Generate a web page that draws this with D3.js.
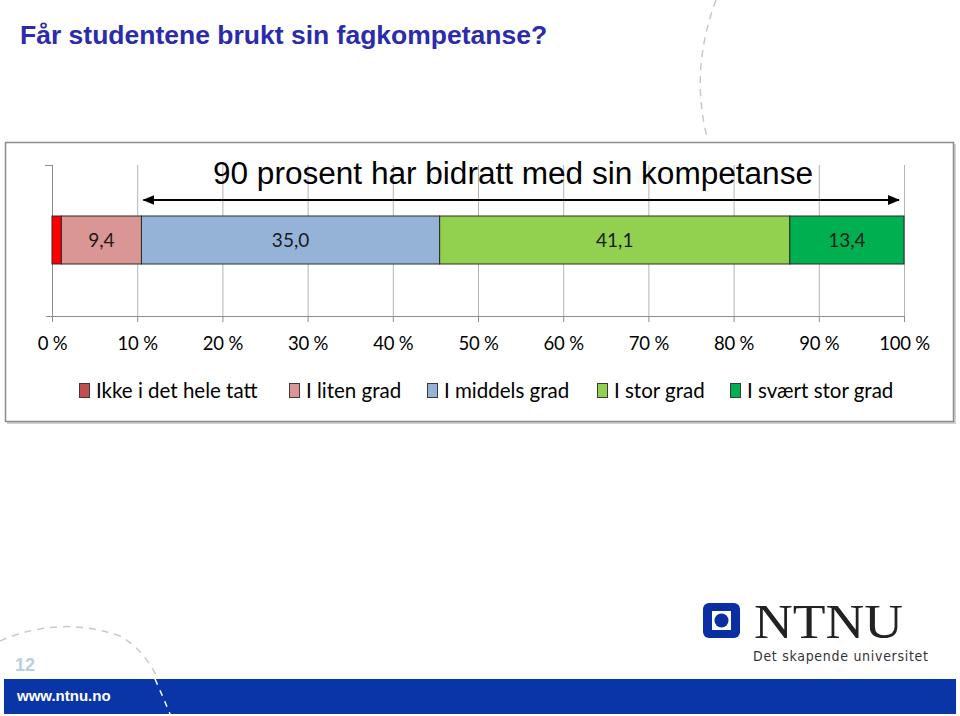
<!DOCTYPE html>
<html><head><meta charset="utf-8">
<script src="https://cdn.jsdelivr.net/npm/d3@7"></script>
<style>html,body{margin:0;padding:0;background:#fff;}svg{display:block;}</style>
</head><body>
<script>
const categories = ["Ikke i det hele tatt", "I liten grad", "I middels grad", "I stor grad", "I svært stor grad"];
const values = [1.1, 9.4, 35.0, 41.1, 13.4];
const labels = ["", "9,4", "35,0", "41,1", "13,4"];
const tickValues = [0,10,20,30,40,50,60,70,80,90,100];
const tickLabels = ["0 %","10 %","20 %","30 %","40 %","50 %","60 %","70 %","80 %","90 %","100 %"];
const colors = ["#ff0000", "#da9694", "#95b3d7", "#92d050", "#00b050"];
const legendColors = ["#c0504d", "#da9694", "#95b3d7", "#92d050", "#00b050"];
const rows = ["Alle"];

const W = 960, H = 716;
const svg = d3.select("body").append("svg").attr("width", W).attr("height", H);

// decorative dashed arcs
svg.append("path").attr("d", "M716,0 Q690,70 707,137").attr("fill","none")
  .attr("stroke","#c8c8c8").attr("stroke-width",1.5).attr("stroke-dasharray","7,6");
svg.append("path").attr("d", "M0,641 Q60,615 120,636 Q155,655 172,716").attr("fill","none")
  .attr("stroke","#c8c8c8").attr("stroke-width",1.5).attr("stroke-dasharray","7,6");

// page title
svg.append("text").attr("x", 20).attr("y", 44)
  .attr("font-family","Liberation Sans, Arial, sans-serif").attr("font-weight","bold")
  .attr("font-size", 26.5).attr("fill","#2b2bac").text("Får studentene brukt sin fagkompetanse?");

// chart box
svg.append("rect").attr("x",7).attr("y",144).attr("width",949).attr("height",280).attr("fill","#d0d0d0");
svg.append("rect").attr("x",5.5).attr("y",142.5).attr("width",948).attr("height",279)
  .attr("fill","#fff").attr("stroke","#8a8a8a").attr("stroke-width",1.5);

const x = d3.scaleLinear().domain([0,100]).range([52,904]);
const y = d3.scaleBand().domain(rows).range([216,264]).padding(0);

const g = svg.append("g");
// gridlines
g.selectAll("line.grid").data(tickValues.slice(1)).join("line")
  .attr("x1", d=>x(d)+0.5).attr("x2", d=>x(d)+0.5).attr("y1",165).attr("y2",316)
  .attr("stroke","#b4b4b4").attr("stroke-width",1);

// x axis
const xAxis = d3.axisBottom(x).tickValues(tickValues).tickSize(6).tickFormat((d,i)=>tickLabels[i]);
const ax = g.append("g").attr("transform","translate(0,316)").call(xAxis);
ax.select(".domain").attr("stroke","#8c8c8c").attr("d","M46,0.5H905");
ax.selectAll(".tick line").attr("stroke","#8c8c8c");
ax.selectAll(".tick text").attr("font-family","Lato, sans-serif").attr("font-size",18.5)
  .attr("fill","#000").attr("dy","1.35em").attr("letter-spacing","-0.2");

// left category axis
const yAxis = d3.axisLeft(d3.scaleLinear().domain([0,1]).range([316,165])).tickValues([1]).tickSize(7).tickFormat("");
const ay = g.append("g").attr("transform","translate(52,0)").call(yAxis);
ay.select(".domain").attr("stroke","#8c8c8c").attr("d","M0.5,165V316");
ay.selectAll(".tick line").attr("stroke","#8c8c8c");

// bars
const stack = [];
let acc = 0;
values.forEach((v,i)=>{ stack.push({i, x0: acc, x1: acc+v, v}); acc += v; });
g.selectAll("rect.seg").data(stack).join("rect")
  .attr("x", d=>x(d.x0)).attr("width", d=>x(d.x1)-x(d.x0))
  .attr("y", y("Alle")).attr("height", y.bandwidth())
  .attr("fill", d=>colors[d.i]).attr("stroke","#2a2a2a").attr("stroke-width",1);
g.selectAll("text.lbl").data(stack.filter(d=>labels[d.i])).join("text")
  .attr("x", d=>(x(d.x0)+x(d.x1))/2).attr("y", y("Alle")+y.bandwidth()/2+6.5)
  .attr("text-anchor","middle").attr("font-family","Lato, sans-serif").attr("font-size",19)
  .attr("fill","#1a1a1a").text(d=>labels[d.i]);

// annotation arrow
svg.append("defs").html(
 '<marker id="ah" viewBox="0 0 12 10" refX="11" refY="5" markerWidth="12" markerHeight="10" markerUnits="userSpaceOnUse" orient="auto-start-reverse"><path d="M0,0L12,5L0,10Z" fill="#000"/></marker>');
svg.append("line").attr("x1", x(values[0]+values[1])+2).attr("x2", x(100)-5).attr("y1",200).attr("y2",200)
  .attr("stroke","#000").attr("stroke-width",2.2)
  .attr("marker-start","url(#ah)").attr("marker-end","url(#ah)");
svg.append("text").attr("x", 213).attr("y", 184)
  .attr("font-family","Liberation Sans, Arial, sans-serif").attr("font-size",31)
  .attr("textLength",600).attr("lengthAdjust","spacingAndGlyphs")
  .attr("fill","#000").text("90 prosent har bidratt med sin kompetanse");

// legend
const legX = [79, 289, 427, 597, 730];
const lg = svg.append("g");
categories.forEach((c,i)=>{
  lg.append("rect").attr("x",legX[i]+0.5).attr("y",383.5).attr("width",10).attr("height",14)
    .attr("fill",legendColors[i]).attr("stroke","#3a3a3a").attr("stroke-width",1);
  lg.append("text").attr("x",legX[i]+17).attr("y",397.5).attr("font-family","Lato, sans-serif")
    .attr("font-size",20.5).attr("fill","#000").text(c);
});

// NTNU logo
const logo = svg.append("g");
logo.append("rect").attr("x",703).attr("y",603).attr("width",37).attr("height",35).attr("rx",6).attr("fill","#0a2fa3");
logo.append("rect").attr("x",712).attr("y",611).attr("width",19).attr("height",19).attr("fill","#fff");
logo.append("circle").attr("cx",721.5).attr("cy",620.5).attr("r",7).attr("fill","#0a2fa3");
logo.append("text").attr("x",754).attr("y",638).attr("font-family","Liberation Serif, Times New Roman, serif")
  .attr("font-size",48).attr("fill","#222").attr("textLength",149).attr("lengthAdjust","spacingAndGlyphs").text("NTNU");
logo.append("text").attr("x",753).attr("y",661).attr("font-family","DejaVu Sans Condensed, DejaVu Sans, sans-serif")
  .attr("font-size",14).attr("fill","#333").attr("textLength",175).attr("lengthAdjust","spacing").text("Det skapende universitet");

// footer
svg.append("text").attr("x",15).attr("y",671).attr("font-family","Liberation Sans, Arial, sans-serif")
  .attr("font-weight","bold").attr("font-size",18).attr("fill","#b9cfe0").text("12");
svg.append("rect").attr("x",4).attr("y",679).attr("width",952).attr("height",35).attr("fill","#0a35a6");
svg.append("path").attr("d","M155,679 Q163,697 170,714").attr("fill","none")
  .attr("stroke","#ffffff").attr("stroke-width",1.5).attr("stroke-dasharray","6,6");
svg.append("text").attr("x",17).attr("y",701).attr("font-family","Liberation Sans, Arial, sans-serif")
  .attr("font-weight","bold").attr("font-size",15).attr("fill","#fff").text("www.ntnu.no");
</script>
</body></html>
